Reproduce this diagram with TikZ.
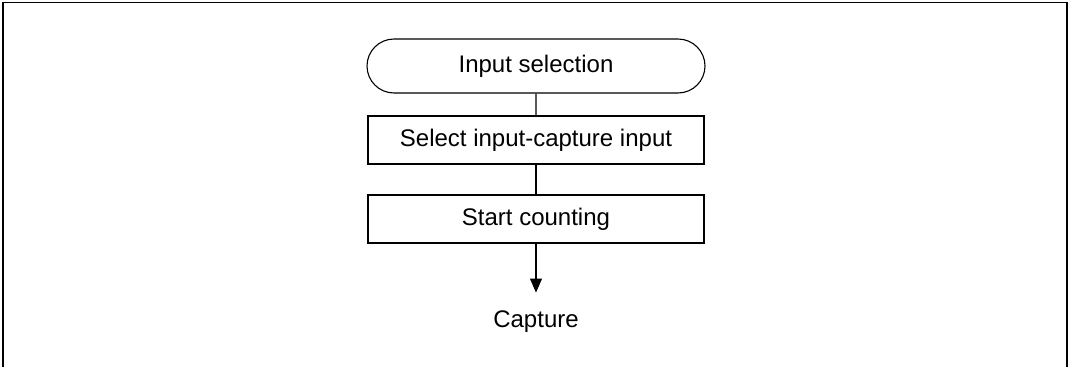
\documentclass[tikz,border=0pt]{standalone}
\usepackage{fontspec}
\setmainfont{Liberation Sans}
\usetikzlibrary{shapes.misc,arrows.meta}
\begin{document}
\begin{tikzpicture}[x=1pt,y=-1pt,
  every node/.style={font=\fontsize{24}{28}\selectfont},
  term/.style={draw,rounded rectangle,minimum width=338pt,minimum height=54pt,inner sep=0pt,line width=1.1pt},
  proc/.style={draw,rectangle,minimum width=336pt,minimum height=48pt,inner sep=0pt,line width=1.1pt},
  conn/.style={line width=1.1pt},
  arr/.style={line width=1.1pt,-{Triangle[length=14pt,width=12pt]}}]
\useasboundingbox (0,0) rectangle (1069,367);
\coordinate (bl) at (3,367);
\coordinate (tl) at (3,2.5);
\coordinate (tr) at (1067,2.5);
\coordinate (br) at (1067,367);
\draw[line width=1.4pt] (bl) -- (tl) -- (tr) -- (br);
\node[term] (t) at (536,66) {Input selection};
\node[proc] (a) at (536,140) {Select input-capture input};
\node[proc] (b) at (536,219) {Start counting};
\node (c) at (536,322) {Capture};
\draw[conn] (t) -- (a);
\draw[conn] (a) -- (b);
\draw[arr] (b.south) -- ++(0,49) coordinate (tip);
\end{tikzpicture}
\end{document}
